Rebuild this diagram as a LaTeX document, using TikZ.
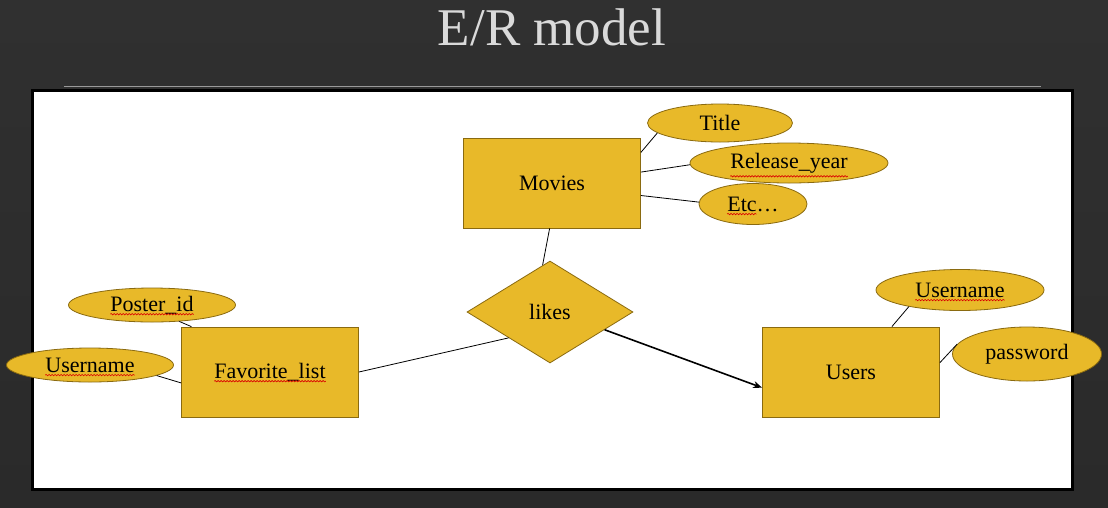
\documentclass[tikz,border=0pt]{standalone}
\usepackage{fontspec}
\setmainfont{Liberation Serif}
\usetikzlibrary{shapes.geometric,arrows.meta,decorations.pathmorphing,calc}
\definecolor{slate}{HTML}{2A2A2A}
\definecolor{slatetop}{HTML}{303030}
\definecolor{gold}{HTML}{E8B929}
\definecolor{goldedge}{HTML}{8A6A10}
\definecolor{titlegray}{HTML}{DADADA}
\definecolor{rulegray}{HTML}{9A9A9A}
\begin{document}
\begin{tikzpicture}[x=1pt,y=-1pt,
  shapebase/.style={draw=goldedge, fill=gold, line width=0.8pt, inner sep=0pt},
  entity/.style={shapebase, rectangle, minimum width=177pt, minimum height=90pt},
  attr/.style={shapebase, ellipse},
  relation/.style={shapebase, diamond, minimum width=166pt, minimum height=102pt},
  lbl/.style={inner sep=0pt, font=\fontsize{22}{26}\selectfont},
  link/.style={draw=black, line width=0.8pt},
  spell/.style={draw=red!85!black, line width=0.6pt, decorate,
    decoration={snake, amplitude=0.7pt, segment length=3pt}}]

\useasboundingbox (0,0) rectangle (1108,507);

% slide background and heading
\shade[top color=slatetop, bottom color=slate] (0,0) rectangle (1108,507);
\node[anchor=base, text=titlegray, inner sep=0pt,
  font=\fontsize{53}{60}\selectfont] (heading) at (552,45) {E/R model};
\draw[rulegray, line width=0.8pt] (64,86.5) -- (1041,86.5);

% white drawing panel
\draw[line width=3pt, fill=white] (32.5,90.5) rectangle (1072.5,489);

% entities
\node[entity] (movies) at (552,183) {};
\node[lbl] (moviesT) at (movies) {Movies};
\node[entity] (fav) at (270,372) {};
\node[lbl] (favT) at (fav) {Favorite\_list};
\node[entity] (users) at (851,372) {};
\node[lbl] (usersT) at (users) {Users};

% relationship
\node[relation] (likes) at (550,312) {};
\node[lbl] (likesT) at (likes) {likes};

% attributes
\node[attr, minimum width=145pt, minimum height=38pt] (title) at (720,123) {};
\node[lbl] (titleT) at (title) {Title};
\node[attr, minimum width=198pt, minimum height=40pt] (release) at (789,163) {};
\node[lbl] (releaseT) at (release) {Release\_year};
\node[attr, minimum width=108pt, minimum height=41pt] (etc) at (753,204) {};
\node[lbl] (etcT) at (etc) {Etc…};
\node[attr, minimum width=167pt, minimum height=34pt] (poster) at (152,305) {};
\node[lbl] (posterT) at (poster) {Poster\_id};
\node[attr, minimum width=167pt, minimum height=34pt] (unameL) at (90,365) {};
\node[lbl] (unameLT) at (unameL) {Username};
\node[attr, minimum width=168pt, minimum height=41pt] (unameR) at (960,290) {};
\node[lbl] (unameRT) at (unameR) {Username};
\node[attr, minimum width=149pt, minimum height=54pt] (password) at (1027,354) {};
\node[lbl] (passwordT) at (password) {password};

% spell-check squiggles under the underscored names
\draw[spell] ([yshift=-3pt]posterT.base west) -- ([yshift=-3pt]posterT.base east);
\draw[spell] ([yshift=-3pt]unameLT.base west) -- ([yshift=-3pt]unameLT.base east);
\draw[spell] ([yshift=-3pt]unameRT.base west) -- ([yshift=-3pt]unameRT.base east);
\draw[spell] ([yshift=-3pt]favT.base west) -- ([yshift=-3pt]favT.base east);
\draw[spell] ([yshift=-8pt]releaseT.base west) -- ([yshift=-8pt]releaseT.base east);
\draw[spell] ([yshift=-3pt]etcT.base west) -- ([yshift=-3pt]$(etcT.base west)!0.57!(etcT.base east)$);

% attribute links
\draw[link] (movies.19) -- (title.189);
\draw[link] (movies.7) -- (release.181);
\draw[link] (movies.-8) -- (etc.178);
\draw[link] (poster.-31) -- (fav.150);
\draw[link] (unameL.-9) -- (fav.187);
\draw[link] (users.48) -- (unameR.198);
\draw[link] (users.6) -- (password.172);

% relationship links
\draw[link] (movies.267) -- (likes.99);
\draw[link] (fav.east) -- (likes.212);
\draw[link, line width=1.6pt, -{Stealth[length=9pt, width=7pt]}] (likes.-18) -- (users.190);
\end{tikzpicture}
\end{document}
